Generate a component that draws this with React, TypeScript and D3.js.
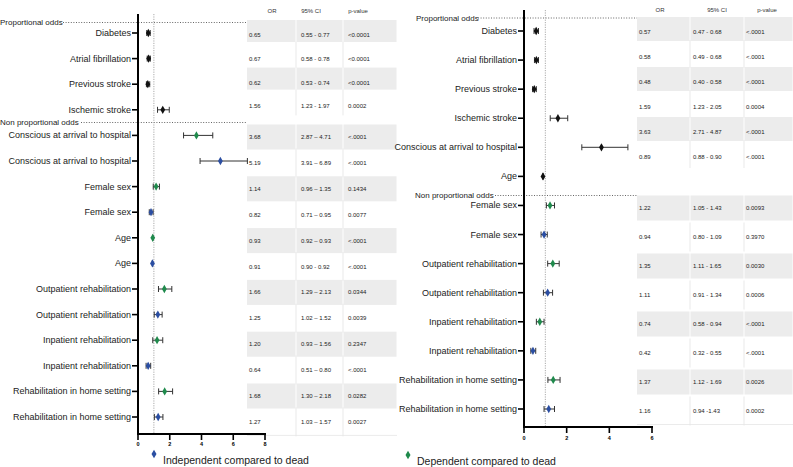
import * as d3 from "d3";

type Grp = "k" | "g" | "b";

// left forest plot
const leftLabels = [
  "Diabetes",
  "Atrial fibrillation",
  "Previous stroke",
  "Ischemic stroke",
  "Conscious at arrival to hospital",
  "Conscious at arrival to hospital",
  "Female sex",
  "Female sex",
  "Age",
  "Age",
  "Outpatient rehabilitation",
  "Outpatient rehabilitation",
  "Inpatient rehabilitation",
  "Inpatient rehabilitation",
  "Rehabilitation in home setting",
  "Rehabilitation in home setting",
];
const leftGroup: Grp[] = ["k", "k", "k", "k", "g", "b", "g", "b", "g", "b", "g", "b", "g", "b", "g", "b"];
const leftOR = [0.65, 0.67, 0.62, 1.56, 3.68, 5.19, 1.14, 0.82, 0.93, 0.91, 1.66, 1.25, 1.2, 0.64, 1.68, 1.27];
const leftLo = [0.55, 0.58, 0.53, 1.23, 2.87, 3.91, 0.96, 0.71, 0.92, 0.9, 1.29, 1.02, 0.93, 0.51, 1.3, 1.03];
const leftHi = [0.77, 0.78, 0.74, 1.97, 4.71, 6.89, 1.35, 0.95, 0.93, 0.92, 2.13, 1.52, 1.56, 0.8, 2.18, 1.57];
const leftSep = [" - ", " - ", " - ", " - ", " – ", " – ", " – ", " – ", " – ", " - ", " – ", " – ", " – ", " – ", " – ", " – "];
const leftP = [
  "<0.0001", "<0.0001", "<0.0001", "0.0002", "<.0001", "<.0001", "0.1434", "0.0077",
  "<.0001", "<.0001", "0.0344", "0.0039", "0.2347", "<.0001", "0.0282", "0.0027",
];
const leftTicks = [0, 2, 4, 6, 8];

// right forest plot
const rightLabels = [
  "Diabetes",
  "Atrial fibrillation",
  "Previous stroke",
  "Ischemic stroke",
  "Conscious at arrival to hospital",
  "Age",
  "Female sex",
  "Female sex",
  "Outpatient rehabilitation",
  "Outpatient rehabilitation",
  "Inpatient rehabilitation",
  "Inpatient rehabilitation",
  "Rehabilitation in home setting",
  "Rehabilitation in home setting",
];
const rightGroup: Grp[] = ["k", "k", "k", "k", "k", "k", "g", "b", "g", "b", "g", "b", "g", "b"];
const rightOR = [0.57, 0.58, 0.48, 1.59, 3.63, 0.89, 1.22, 0.94, 1.35, 1.11, 0.74, 0.42, 1.37, 1.16];
const rightLo = [0.47, 0.49, 0.4, 1.23, 2.71, 0.88, 1.05, 0.8, 1.11, 0.91, 0.58, 0.32, 1.12, 0.94];
const rightHi = [0.68, 0.68, 0.58, 2.05, 4.87, 0.9, 1.43, 1.09, 1.65, 1.34, 0.94, 0.55, 1.69, 1.43];
const rightSep = [" - ", " - ", " - ", " - ", " - ", " - ", " - ", " - ", " - ", " - ", " - ", " - ", " - ", " -"];
const rightP = [
  "<.0001", "<.0001", "<.0001", "0.0004", "<.0001", "<.0001", "0.0093",
  "0.3970", "0.0030", "0.0006", "<.0001", "<.0001", "0.0026", "0.0002",
];
const rightTicks = [0, 2, 4, 6];

const headers = ["OR", "95% CI", "p-value"];
const sectionNames = ["Proportional odds", "Non proportional odds"];
const legendNames = ["Independent compared to dead", "Dependent compared to dead"];

const colors: Record<Grp, string> = { k: "#111111", g: "#1f8a4c", b: "#2b4ea2" };
const FONT = "'Liberation Sans', Arial, Helvetica, sans-serif";

type Layout = {
  x0: number; x1: number; yFirst: number; yLast: number; top: number; bottom: number;
  sec1: { x: number; y: number; lineFrom: number };
  sec2: { x: number; y: number; lineFrom: number };
  tbl: { x0: number; x1: number; seps: number[]; textX: number[]; headX: number[]; headY: number };
  t1: { start: number; step: number; h: number; off: number };
  t2: { start: number; step: number; h: number; off: number };
  tickY: number;
};

function Panel(props: {
  labels: string[]; group: Grp[]; or: number[]; lo: number[]; hi: number[];
  sep: string[]; pv: string[]; nProp: number; ticks: number[]; L: Layout;
}) {
  const { labels, group, or, lo, hi, sep, pv, nProp, ticks, L } = props;
  const xMax = ticks[ticks.length - 1];
  const x = d3.scaleLinear().domain([0, xMax]).range([L.x0, L.x1]);
  const y = d3.scaleLinear().domain([0, labels.length - 1]).range([L.yFirst, L.yLast]);
  const diamond = d3.symbol(d3.symbolDiamond, 20)() as string;
  const T = L.tbl;

  // table row centres for both sections
  const rows = labels.map((_, i) => {
    if (i < nProp) return { c: L.t1.start + i * L.t1.step, s: L.t1, even: i % 2 === 0 };
    const j = i - nProp;
    return { c: L.t2.start + j * L.t2.step, s: L.t2, even: j % 2 === 0 };
  });
  const lastRow = rows[rows.length - 1];

  return (
    <g fontFamily={FONT}>
      {/* table background */}
      {rows.map((r, i) =>
        r.even ? (
          <g key={"band" + i}>
            {[T.x0, ...T.seps].map((sx, k) => {
              const ex = k < T.seps.length ? T.seps[k] : T.x1;
              return (
                <rect key={k} x={sx + (k ? 0.5 : 0)} y={r.c + r.s.off - r.s.h / 2} width={ex - sx - (k ? 0.5 : 0) - 0.5}
                  height={r.s.h} fill="#ececec" />
              );
            })}
          </g>
        ) : (
          <g key={"sep" + i}>
            {T.seps.map((sx, k) => (
              <line key={k} x1={sx} x2={sx} y1={r.c + r.s.off - r.s.h / 2 - 2} y2={r.c + r.s.off + r.s.h / 2 + 2}
                stroke="#e3e3e3" strokeWidth={0.8} />
            ))}
          </g>
        )
      )}
      <line x1={T.x0} x2={T.x1} y1={lastRow.c + lastRow.s.off + lastRow.s.h / 2 + 1}
        y2={lastRow.c + lastRow.s.off + lastRow.s.h / 2 + 1} stroke="#e6e6e6" strokeWidth={0.8} />

      {headers.map((h, k) => (
        <text key={h} x={T.headX[k]} y={T.headY} fontSize={6} textAnchor="middle" dominantBaseline="central" fill="#333">
          {h}
        </text>
      ))}
      {rows.map((r, i) => (
        <g key={"txt" + i} fontSize={6} fill="#222">
          <text x={T.textX[0]} y={r.c} dominantBaseline="central">{or[i].toFixed(2)}</text>
          <text x={T.textX[1]} y={r.c} dominantBaseline="central">{lo[i].toFixed(2) + sep[i] + hi[i].toFixed(2)}</text>
          <text x={T.textX[2]} y={r.c} dominantBaseline="central">{pv[i]}</text>
        </g>
      ))}

      {/* section headings */}
      {[L.sec1, L.sec2].map((s, k) => (
        <g key={"sec" + k}>
          <text x={s.x} y={s.y} fontSize={8} dominantBaseline="central" fill="#222">{sectionNames[k]}</text>
          <line x1={s.lineFrom} x2={T.x0} y1={s.y} y2={s.y} stroke="#555" strokeWidth={0.9} strokeDasharray="1 1.6" />
        </g>
      ))}

      {/* reference line at OR = 1 */}
      <line x1={x(1)} x2={x(1)} y1={L.top} y2={L.bottom} stroke="#aaa" strokeWidth={1} strokeDasharray="1.2 1.2" />

      {/* axes */}
      <line x1={L.x0} x2={L.x0} y1={L.top} y2={L.bottom + 1} stroke="#000" strokeWidth={2} />
      <line x1={L.x0 - 1} x2={L.x1 + 1} y1={L.bottom} y2={L.bottom} stroke="#000" strokeWidth={2} />
      {ticks.map((t) => (
        <g key={"xt" + t}>
          <line x1={x(t)} x2={x(t)} y1={L.bottom} y2={L.bottom + 6} stroke="#000" strokeWidth={1.6} />
          <text x={x(t)} y={L.tickY} fontSize={5.5} fontWeight="bold" textAnchor="middle" dominantBaseline="central">{t}</text>
        </g>
      ))}
      {labels.map((lab, i) => (
        <g key={"yl" + i}>
          <line x1={L.x0 - 6} x2={L.x0} y1={y(i)} y2={y(i)} stroke="#000" strokeWidth={1.6} />
          <text x={L.x0 - 7} y={y(i)} fontSize={9} textAnchor="end" dominantBaseline="central" fill="#222">{lab}</text>
        </g>
      ))}

      {/* estimates with 95% CI */}
      {labels.map((_, i) => (
        <g key={"pt" + i}>
          <line x1={x(lo[i])} x2={x(hi[i])} y1={y(i)} y2={y(i)} stroke="#333" strokeWidth={1} />
          <line x1={x(lo[i])} x2={x(lo[i])} y1={y(i) - 3} y2={y(i) + 3} stroke="#333" strokeWidth={1} />
          <line x1={x(hi[i])} x2={x(hi[i])} y1={y(i) - 3} y2={y(i) + 3} stroke="#333" strokeWidth={1} />
          <path d={diamond} transform={`translate(${x(or[i])},${y(i)})`} fill={colors[group[i]]} />
        </g>
      ))}
    </g>
  );
}

const leftLayout: Layout = {
  x0: 138, x1: 265, yFirst: 33, yLast: 417, top: 14, bottom: 434,
  sec1: { x: 0, y: 22.5, lineFrom: 63 },
  sec2: { x: 0, y: 122.5, lineFrom: 81 },
  tbl: { x0: 247, x1: 397, seps: [296, 343], textX: [249, 301, 348], headX: [272, 311, 358], headY: 11 },
  t1: { start: 35, step: 23.8, h: 22, off: -4 },
  t2: { start: 137, step: 25.9, h: 25, off: 0 },
  tickY: 444,
};

const rightLayout: Layout = {
  x0: 524, x1: 652, yFirst: 31, yLast: 409, top: 10, bottom: 427,
  sec1: { x: 416, y: 18, lineFrom: 478 },
  sec2: { x: 415, y: 195.5, lineFrom: 495 },
  tbl: { x0: 637, x1: 793, seps: [690, 744], textX: [639, 693, 746], headX: [660, 717, 767], headY: 10 },
  t1: { start: 32, step: 25, h: 24, off: -3 },
  t2: { start: 208, step: 29, h: 25, off: 0 },
  tickY: 438,
};

export default function App() {
  const legendMark = d3.symbol(d3.symbolDiamond, 22)() as string;
  return (
    <svg width={793} height={467} style={{ position: "absolute", left: 0, top: 0, background: "#fff" }}>
      <rect width={793} height={467} fill="#fff" />
      <Panel labels={leftLabels} group={leftGroup} or={leftOR} lo={leftLo} hi={leftHi} sep={leftSep}
        pv={leftP} nProp={4} ticks={leftTicks} L={leftLayout} />
      <Panel labels={rightLabels} group={rightGroup} or={rightOR} lo={rightLo} hi={rightHi} sep={rightSep}
        pv={rightP} nProp={6} ticks={rightTicks} L={rightLayout} />

      <g fontFamily={FONT} fontSize={10.5} fill="#222">
        <path d={legendMark} transform="translate(154,454)" fill={colors.b} />
        <text x={163} y={460} dominantBaseline="central">{legendNames[0]}</text>
        <path d={legendMark} transform="translate(408,455)" fill={colors.g} />
        <text x={417} y={461} dominantBaseline="central">{legendNames[1]}</text>
      </g>
    </svg>
  );
}
